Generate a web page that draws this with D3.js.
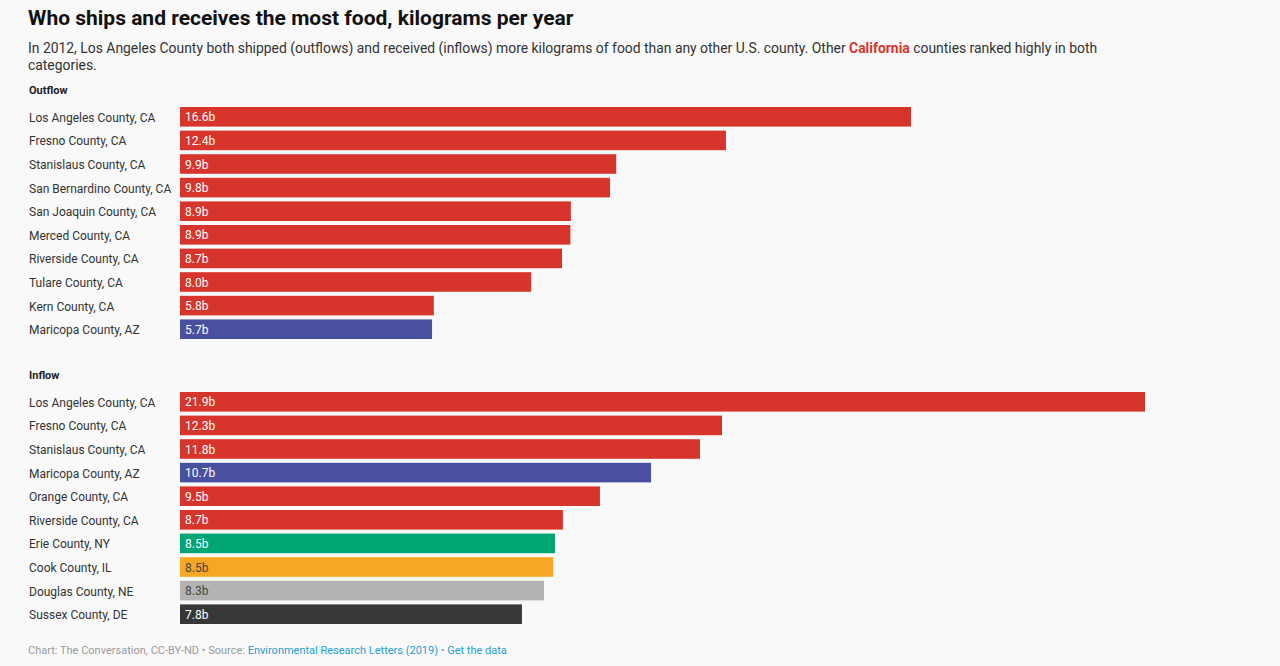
<!DOCTYPE html>
<html>
<head>
<meta charset="utf-8">
<script src="https://cdn.jsdelivr.net/npm/d3@7"></script>
<style>
  html, body { margin: 0; padding: 0; background: #f9f9f9; }
  svg { display: block; font-family: Roboto, "Noto Sans", sans-serif; }
</style>
</head>
<body>
<div id="chart"></div>
<script>
// data (billions of kg per year)
const outflowCounties = ["Los Angeles County, CA", "Fresno County, CA", "Stanislaus County, CA",
  "San Bernardino County, CA", "San Joaquin County, CA", "Merced County, CA",
  "Riverside County, CA", "Tulare County, CA", "Kern County, CA", "Maricopa County, AZ"];
const outflowValues = [16.59, 12.39, 9.90, 9.76, 8.87, 8.86, 8.67, 7.97, 5.76, 5.72];
const outflowStates = ["CA", "CA", "CA", "CA", "CA", "CA", "CA", "CA", "CA", "AZ"];

const inflowCounties = ["Los Angeles County, CA", "Fresno County, CA", "Stanislaus County, CA",
  "Maricopa County, AZ", "Orange County, CA", "Riverside County, CA", "Erie County, NY",
  "Cook County, IL", "Douglas County, NE", "Sussex County, DE"];
const inflowValues = [21.9, 12.30, 11.80, 10.69, 9.53, 8.69, 8.51, 8.47, 8.26, 7.76];
const inflowStates = ["CA", "CA", "CA", "AZ", "CA", "CA", "NY", "IL", "NE", "DE"];

const stateColors = { CA: "#d7352b", AZ: "#4a50a0", NY: "#00a573", IL: "#f6a723", NE: "#b3b3b3", DE: "#373737" };
const darkText = { IL: true, NE: true };

const W = 1280, H = 666;
const svg = d3.select("#chart").append("svg")
  .attr("width", W).attr("height", H);

svg.append("rect").attr("width", W).attr("height", H).attr("fill", "#f9f9f9");

// title + description
svg.append("text")
  .attr("x", 28).attr("y", 25)
  .attr("font-size", 21).attr("font-weight", "bold").attr("fill", "#111")
  .text("Who ships and receives the most food, kilograms per year");

const sub = svg.append("g").attr("font-size", 13.9).attr("fill", "#333");
const line1 = sub.append("text").attr("x", 28).attr("y", 53);
line1.append("tspan").text("In 2012, Los Angeles County both shipped (outflows) and received (inflows) more kilograms of food than any other U.S. county. Other ");
line1.append("tspan").attr("fill", "#d7352b").attr("font-weight", "bold").text("California");
line1.append("tspan").text(" counties ranked highly in both");
sub.append("text").attr("x", 28).attr("y", 70).text("categories.");

// shared value scale
const x = d3.scaleLinear().domain([0, 21.9]).range([180, 1145]);
const fmt = d3.format(".1f");

function drawGroup(title, top, counties, values, states) {
  const rows = counties.map(function(c, i) {
    return { county: c, value: values[i], state: states[i] };
  });
  const y = d3.scaleBand()
    .domain(d3.range(rows.length))
    .range([top, top + rows.length * 23.6])
    .paddingInner(0.17)
    .paddingOuter(0.085);

  svg.append("text")
    .attr("x", 29).attr("y", top - 11)
    .attr("font-size", 11).attr("font-weight", "bold").attr("fill", "#222")
    .text(title);

  const g = svg.append("g");
  g.selectAll("text.name")
    .data(rows)
    .join("text")
    .attr("class", "name")
    .attr("x", 29)
    .attr("y", function(d, i) { return y(i) + y.bandwidth() / 2 + 5; })
    .attr("font-size", 12).attr("fill", "#333")
    .text(function(d) { return d.county; });

  g.selectAll("rect")
    .data(rows)
    .join("rect")
    .attr("x", x(0))
    .attr("y", function(d, i) { return y(i); })
    .attr("width", function(d) { return x(d.value) - x(0); })
    .attr("height", y.bandwidth())
    .attr("fill", function(d) { return stateColors[d.state]; });

  g.selectAll("text.val")
    .data(rows)
    .join("text")
    .attr("class", "val")
    .attr("x", x(0) + 5)
    .attr("y", function(d, i) { return y(i) + y.bandwidth() / 2 + 4.5; })
    .attr("font-size", 12)
    .attr("fill", function(d) { return darkText[d.state] ? "#444" : "#fff"; })
    .text(function(d) { return fmt(d.value) + "b"; });
}

drawGroup("Outflow", 105, outflowCounties, outflowValues, outflowStates);
drawGroup("Inflow", 390, inflowCounties, inflowValues, inflowStates);

// footer
const foot = svg.append("text").attr("x", 28).attr("y", 654).attr("font-size", 11).attr("fill", "#999");
foot.append("tspan").text("Chart: The Conversation, CC-BY-ND \u2022 Source: ");
foot.append("tspan").attr("fill", "#239fd3").text("Environmental Research Letters (2019)");
foot.append("tspan").text(" \u2022 ");
foot.append("tspan").attr("fill", "#239fd3").text("Get the data");
</script>
</body>
</html>
